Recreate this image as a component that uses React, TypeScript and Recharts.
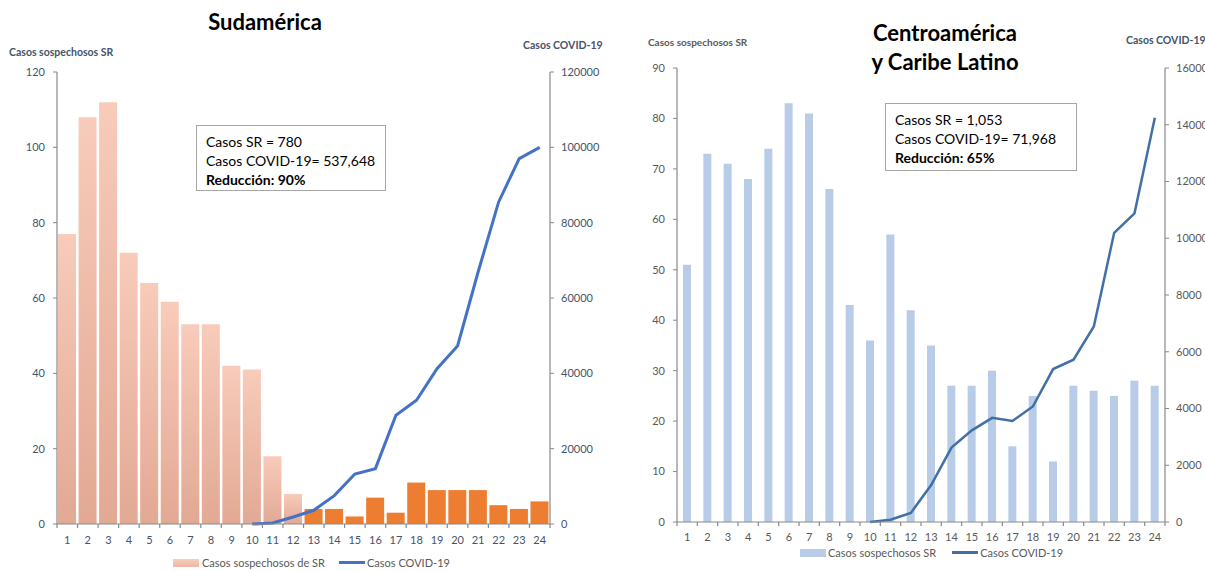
import { Bar, Cell, ComposedChart, Legend, Line, XAxis, YAxis } from "recharts"

const weeks = [1, 2, 3, 4, 5, 6, 7, 8, 9, 10, 11, 12, 13, 14, 15, 16, 17, 18, 19, 20, 21, 22, 23, 24]

// Sudamérica
const srSud = [77, 108, 112, 72, 64, 59, 53, 53, 42, 41, 18, 8, 4, 4, 2, 7, 3, 11, 9, 9, 9, 5, 4, 6]
const covidSud = [
  null, null, null, null, null, null, null, null, null,
  0, 270, 1860, 3640, 7540, 13280, 14700, 28860, 32840, 41250, 47260, 66900, 85500, 97000, 100000,
]
const sudLeftTicks = [0, 20, 40, 60, 80, 100, 120]
const sudRightTicks = [0, 20000, 40000, 60000, 80000, 100000, 120000]

// Centroamérica y Caribe Latino
const srCen = [51, 73, 71, 68, 74, 83, 81, 66, 43, 36, 57, 42, 35, 27, 27, 30, 15, 25, 12, 27, 26, 25, 28, 27]
const covidCen = [
  null, null, null, null, null, null, null, null, null,
  0, 80, 320, 1300, 2620, 3230, 3670, 3560, 4070, 5390, 5720, 6890, 10190, 10880, 14250,
]
const cenLeftTicks = [0, 10, 20, 30, 40, 50, 60, 70, 80, 90]
const cenRightTicks = [0, 2000, 4000, 6000, 8000, 10000, 12000, 14000, 16000]

const sudData = weeks.map((w, i) => ({ week: w, sr: srSud[i], covid: covidSud[i] }))
const cenData = weeks.map((w, i) => ({ week: w, sr: srCen[i], covid: covidCen[i] }))

const FONT = "Lato, 'Open Sans', sans-serif"
const AXIS = "#898989"

function CategoryTick(props: any) {
  const { x, y, payload, index, band, color, dy } = props
  const last = index === weeks.length - 1
  return (
    <g>
      <line x1={x - band / 2} x2={x - band / 2} y1={y} y2={y + 4} stroke={AXIS} strokeWidth={1.2} />
      {last && <line x1={x + band / 2} x2={x + band / 2} y1={y} y2={y + 4} stroke={AXIS} strokeWidth={1.2} />}
      <text x={x} y={y + dy} textAnchor="middle" fill={color} fontSize={11} fontFamily={FONT}>
        {payload.value}
      </text>
    </g>
  )
}

function SudLegend() {
  return (
    <div style={{ display: "flex", alignItems: "center", fontFamily: FONT, fontSize: 11, color: "#595959", whiteSpace: "nowrap" }}>
      <span style={{ width: 26, height: 8, background: "linear-gradient(#F8CDBD, #EDB7A3)", marginRight: 3 }} />
      <span>Casos sospechosos de SR</span>
      <span style={{ width: 26, height: 3, background: "#4472C4", marginLeft: 14, marginRight: 2 }} />
      <span>Casos COVID-19</span>
    </div>
  )
}

function CenLegend() {
  return (
    <div style={{ display: "flex", alignItems: "center", fontFamily: FONT, fontSize: 11, color: "#595959", whiteSpace: "nowrap" }}>
      <span style={{ width: 26, height: 8, background: "#B8CCE8", marginRight: 2 }} />
      <span>Casos sospechosos SR</span>
      <span style={{ width: 26, height: 3, background: "#4270A5", marginLeft: 16, marginRight: 2 }} />
      <span>Casos COVID-19</span>
    </div>
  )
}

const abs = (left: number, top: number, extra: any = {}) => ({ position: "absolute" as const, left, top, ...extra })

export default function App() {
  return (
    <div style={{ position: "absolute", left: 0, top: 0, width: 1205, height: 571, overflow: "hidden", background: "#fff", fontFamily: FONT }}>
      {/* Sudamérica */}
      <div style={abs(0, 0)}>
        <ComposedChart width={600} height={571} data={sudData} margin={{ top: 72, right: 0, bottom: 17, left: 0 }} barCategoryGap="5%">
          <defs>
            <linearGradient id="peach" x1="0" y1="0" x2="0" y2="1">
              <stop offset="0%" stopColor="#F8CBBA" />
              <stop offset="100%" stopColor="#E2A994" />
            </linearGradient>
          </defs>
          <XAxis
            dataKey="week"
            interval={0}
            height={30}
            tickSize={0}
            tickMargin={0}
            axisLine={{ stroke: AXIS, strokeWidth: 1.2 }}
            tick={<CategoryTick band={493 / 24} color="#44546A" dy={20} />}
          />
          <YAxis
            yAxisId="left"
            width={57}
            domain={[0, 120]}
            ticks={sudLeftTicks}
            tickSize={4}
            tickMargin={8}
            axisLine={{ stroke: AXIS, strokeWidth: 1.2 }}
            tickLine={{ stroke: AXIS }}
            tick={{ fill: "#44546A", fontSize: 11, fontFamily: FONT }}
          />
          <YAxis
            yAxisId="right"
            orientation="right"
            width={50}
            domain={[0, 120000]}
            ticks={sudRightTicks}
            tickSize={4}
            tickMargin={7}
            axisLine={{ stroke: AXIS, strokeWidth: 1.2 }}
            tickLine={{ stroke: AXIS }}
            tick={{ fill: "#44546A", fontSize: 11, fontFamily: FONT }}
          />
          <Legend
            layout="vertical"
            align="center"
            verticalAlign="middle"
            wrapperStyle={{ top: 556, left: 173, width: 300, height: 15 }}
            content={() => <SudLegend />}
          />
          <Bar yAxisId="left" dataKey="sr" isAnimationActive={false}>
            {sudData.map((d, i) => (
              <Cell key={d.week} fill={i < 12 ? "url(#peach)" : "#ED7D31"} />
            ))}
          </Bar>
          <Line
            yAxisId="right"
            type="linear"
            dataKey="covid"
            stroke="#4472C4"
            strokeWidth={3}
            dot={false}
            activeDot={false}
            isAnimationActive={false}
          />
        </ComposedChart>
      </div>

      {/* Centroamérica y Caribe Latino */}
      <div style={abs(600, 0)}>
        <ComposedChart width={605} height={571} data={cenData} margin={{ top: 68, right: 0, bottom: 19, left: 0 }}>
          <XAxis
            dataKey="week"
            interval={0}
            height={30}
            tickSize={0}
            tickMargin={0}
            axisLine={{ stroke: AXIS, strokeWidth: 1.2 }}
            tick={<CategoryTick band={488 / 24} color="#595959" dy={19} />}
          />
          <YAxis
            yAxisId="left"
            width={77}
            domain={[0, 90]}
            ticks={cenLeftTicks}
            tickSize={4}
            tickMargin={8}
            axisLine={{ stroke: AXIS, strokeWidth: 1.2 }}
            tickLine={{ stroke: AXIS }}
            tick={{ fill: "#595959", fontSize: 11, fontFamily: FONT }}
          />
          <YAxis
            yAxisId="right"
            orientation="right"
            width={40}
            domain={[0, 16000]}
            ticks={cenRightTicks}
            tickSize={4}
            tickMargin={7}
            axisLine={{ stroke: AXIS, strokeWidth: 1.2 }}
            tickLine={{ stroke: AXIS }}
            tick={{ fill: "#595959", fontSize: 11, fontFamily: FONT }}
          />
          <Legend
            layout="vertical"
            align="center"
            verticalAlign="middle"
            wrapperStyle={{ top: 546, left: 200, width: 300, height: 16 }}
            content={() => <CenLegend />}
          />
          <Bar yAxisId="left" dataKey="sr" fill="#B8CCE8" barSize={8} isAnimationActive={false} />
          <Line
            yAxisId="right"
            type="linear"
            dataKey="covid"
            stroke="#4270A5"
            strokeWidth={2.5}
            dot={false}
            activeDot={false}
            isAnimationActive={false}
          />
        </ComposedChart>
      </div>

      {/* titles */}
      <div style={abs(165, 7, { width: 200, textAlign: "center", fontSize: 22, fontWeight: 700, lineHeight: "30px", color: "#000" })}>
        Sudamérica
      </div>
      <div style={abs(845, 18, { width: 200, textAlign: "center", fontSize: 22, fontWeight: 700, lineHeight: "29px", color: "#000" })}>
        Centroamérica
        <br />y Caribe Latino
      </div>

      {/* axis titles */}
      <div style={abs(9, 44, { fontSize: 10.5, fontWeight: 700, lineHeight: "16px", color: "#44546A", whiteSpace: "nowrap" })}>
        Casos sospechosos SR
      </div>
      <div style={abs(523, 37, { fontSize: 10.5, fontWeight: 700, lineHeight: "16px", color: "#44546A", whiteSpace: "nowrap" })}>
        Casos COVID-19
      </div>
      <div style={abs(648, 34, { fontSize: 10, fontWeight: 700, lineHeight: "16px", color: "#595959", whiteSpace: "nowrap" })}>
        Casos sospechosos SR
      </div>
      <div style={abs(1126, 32, { fontSize: 10.5, fontWeight: 700, lineHeight: "16px", color: "#44546A", whiteSpace: "nowrap" })}>
        Casos COVID-19
      </div>

      {/* summary boxes */}
      <div
        style={abs(196, 125, {
          width: 190,
          height: 66,
          border: "1px solid #A6A6A6",
          background: "#fff",
          fontSize: 14,
          lineHeight: "19px",
          color: "#000",
          padding: "6px 0 0 9px",
          boxSizing: "border-box",
          whiteSpace: "nowrap",
        })}
      >
        <div>Casos SR = 780</div>
        <div>Casos COVID-19= 537,648</div>
        <div style={{ fontWeight: 700 }}>Reducción: 90%</div>
      </div>
      <div
        style={abs(885, 103, {
          width: 192,
          height: 68,
          border: "1px solid #A6A6A6",
          background: "#fff",
          fontSize: 14,
          lineHeight: "19px",
          color: "#000",
          padding: "6px 0 0 9px",
          boxSizing: "border-box",
          whiteSpace: "nowrap",
        })}
      >
        <div>Casos SR = 1,053</div>
        <div>Casos COVID-19= 71,968</div>
        <div style={{ fontWeight: 700 }}>Reducción: 65%</div>
      </div>
    </div>
  )
}
